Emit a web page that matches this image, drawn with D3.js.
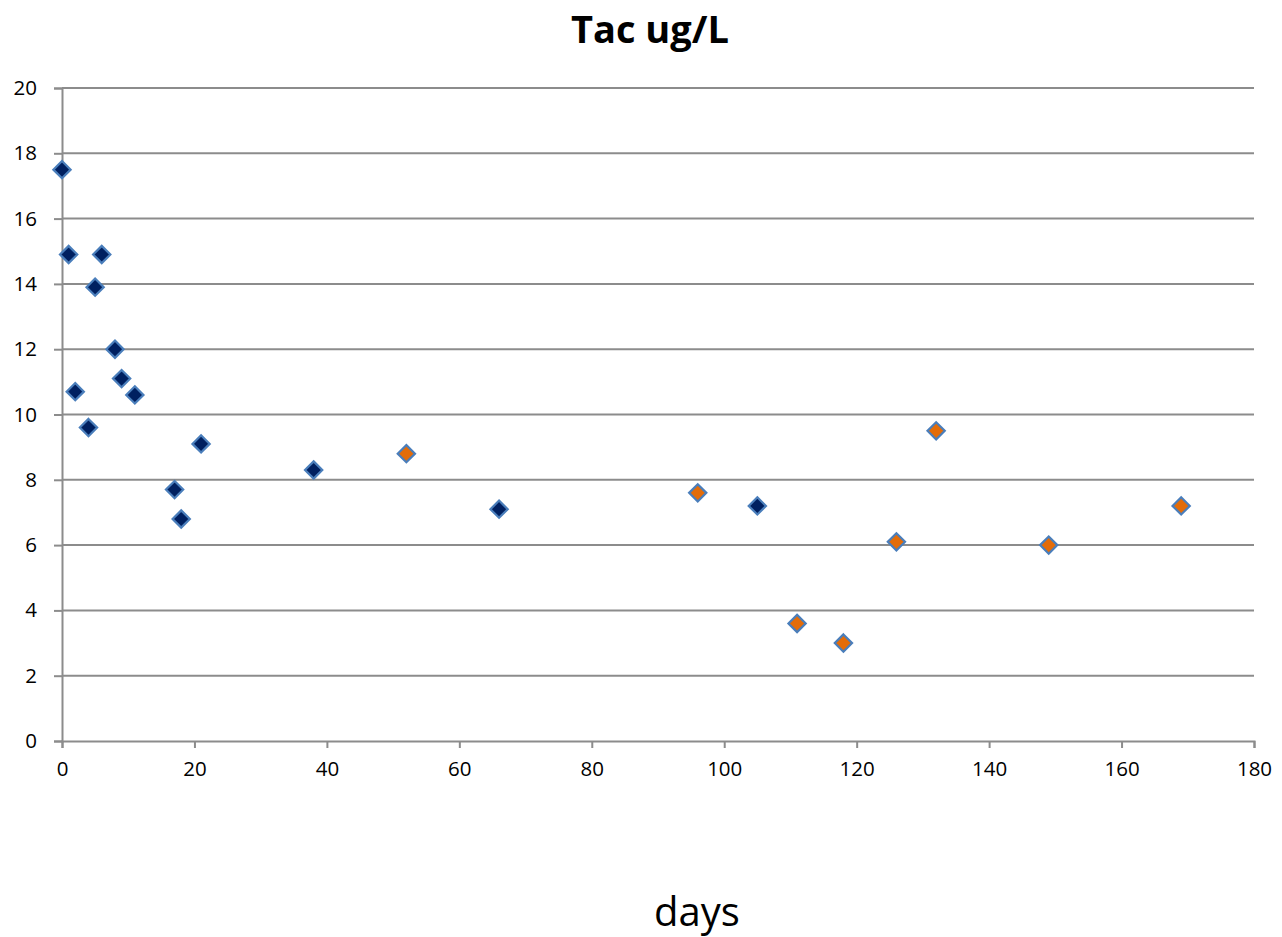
<!DOCTYPE html>
<html><head><meta charset="utf-8">
<script src="https://cdn.jsdelivr.net/npm/d3@7"></script>
<style>body{margin:0;background:#fff;} text{font-family:"Open Sans","Noto Sans",sans-serif;}</style>
</head><body><svg id="c" width="1282" height="937"></svg>
<script>
const seriesADays = [0,1,2,4,5,6,8,9,11,17,18,21,38,66,105];
const seriesAVals = [17.5,14.9,10.7,9.6,13.9,14.9,12.0,11.1,10.6,7.7,6.8,9.1,8.3,7.1,7.2];
const seriesBDays = [52,96,111,118,126,132,149,169];
const seriesBVals = [8.8,7.6,3.6,3.0,6.1,9.5,6.0,7.2];
const xTicks = [0,20,40,60,80,100,120,140,160,180];
const yTicks = [0,2,4,6,8,10,12,14,16,18,20];
const title = "Tac ug/L";
const xTitle = "days";

const svg = d3.select("#c");
const x = d3.scaleLinear().domain([0,180]).range([62,1254]);
const y = d3.scaleLinear().domain([0,20]).range([741,88]);

svg.append("g").selectAll("line").data(yTicks.filter(d=>d>0)).join("line")
  .attr("x1",62).attr("x2",1254).attr("y1",d=>y(d)).attr("y2",d=>y(d))
  .attr("stroke","#8c8c8c").attr("stroke-width",2);

const yAxis = d3.axisLeft(y).tickValues(yTicks).tickSize(8).tickPadding(17);
const gy = svg.append("g").attr("transform","translate(62,0)").call(yAxis);
gy.select(".domain").attr("stroke","#8c8c8c").attr("stroke-width",2);
gy.selectAll(".tick line").attr("stroke","#8c8c8c").attr("stroke-width",2);
gy.selectAll("text").attr("font-size",20.5).attr("fill","#000");

const xAxis = d3.axisBottom(x).tickValues(xTicks).tickSize(7).tickPadding(13);
const gx = svg.append("g").attr("transform","translate(0,741)").call(xAxis);
gx.select(".domain").attr("stroke","#8c8c8c").attr("stroke-width",2);
gx.selectAll(".tick line").attr("stroke","#8c8c8c").attr("stroke-width",2);
gx.selectAll("text").attr("font-size",20.5).attr("fill","#000");

const diamond = d3.symbol().type(d3.symbolDiamond2).size(190);
function plot(days, vals, fill){
  svg.append("g").selectAll("path").data(days.map((d,i)=>[d,vals[i]])).join("path")
    .attr("d",diamond)
    .attr("transform",d=>`translate(${x(d[0])},${y(d[1])})`)
    .attr("fill",fill).attr("stroke","#4a7ebb").attr("stroke-width",2.2);
}
plot(seriesADays, seriesAVals, "#002060");
plot(seriesBDays, seriesBVals, "#e36c09");

svg.append("text").attr("x",650).attr("y",43).attr("text-anchor","middle")
  .attr("font-size",38).attr("font-weight","bold").text(title);
svg.append("text").attr("x",697).attr("y",926).attr("text-anchor","middle")
  .attr("font-size",40).text(xTitle);
</script></body></html>
